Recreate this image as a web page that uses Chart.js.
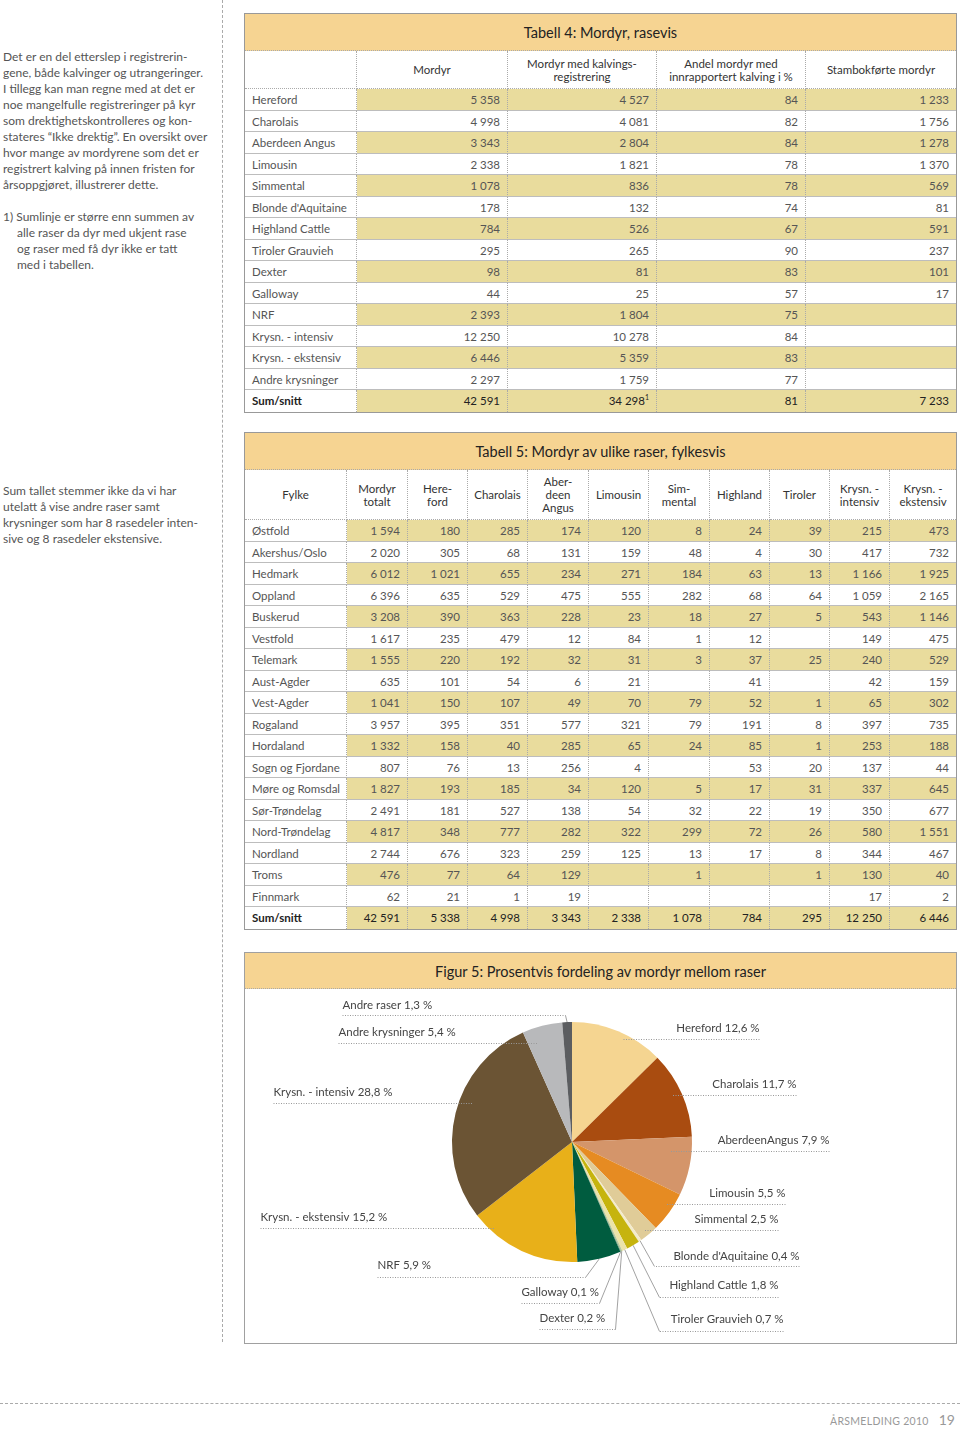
<!DOCTYPE html>
<html lang="no">
<head>
<meta charset="utf-8">
<script src="https://cdn.jsdelivr.net/npm/chart.js@4.4.1/dist/chart.umd.min.js"></script>
<style>
body { margin:0; width:960px; height:1429px; position:relative; background:#fff; font-family:Lato, "Open Sans", sans-serif; color:#555; overflow:hidden; }
.note { position:absolute; left:3px; font-size:12px; line-height:16px; white-space:nowrap; color:#555; }
.note .hang { padding-left:14px; text-indent:-14px; }
.vline { position:absolute; left:222px; top:0; height:1342px; border-left:1px dashed #aaa; }
.hline { position:absolute; left:0; top:1403px; width:960px; border-top:1px dashed #aaa; }
.box { position:absolute; left:244px; width:713px; box-sizing:border-box; border:1px solid #999; background:#fff; }
.band { background:#f6d492; text-align:center; color:#222; font-size:14.5px; border-bottom:1px dotted #aaa; box-sizing:border-box; }
.grid { display:grid; }
.c { box-sizing:border-box; border-right:1px dotted #aaa; border-bottom:1px solid #bdbdbd; font-size:11.5px; text-align:right; padding-right:7px; line-height:21px; white-space:nowrap; overflow:hidden; }
.c.name { text-align:left; padding-left:7px; }
.c.last { border-right:none; }
.c.hl { background:#e9dc9d; }
.c.bot { border-bottom:none; }
.c.sum { color:#222; }
.c.sum.name { font-weight:bold; }
.c.h { display:flex; align-items:center; justify-content:center; text-align:center; color:#333; line-height:13px; padding:0; font-size:11.5px; border-bottom:1px dotted #aaa; }
sup { font-size:7px; line-height:0; }
#fig canvas { display:block; }
.footer { position:absolute; top:1410px; right:5px; color:#999; white-space:nowrap; line-height:18px; }
.footer .t { font-size:10.5px; letter-spacing:0.3px; }
.footer .p { font-size:14px; margin-left:10px; }
</style>
</head>
<body>
<div class="vline"></div>
<div class="hline"></div>

<div class="note" style="top:49px">
Det er en del etterslep i registrerin-<br>
gene, både kalvinger og utrangeringer.<br>
I tillegg kan man regne med at det er<br>
noe mangelfulle registreringer på kyr<br>
som drektighetskontrolleres og kon-<br>
stateres “Ikke drektig”. En oversikt over<br>
hvor mange av mordyrene som det er<br>
registrert kalving på innen fristen for<br>
årsoppgjøret, illustrerer dette.
</div>
<div class="note" style="top:209px">
<div class="hang">1) Sumlinje er større enn summen av<br>
alle raser da dyr med ukjent rase<br>
og raser med få dyr ikke er tatt<br>
med i tabellen.</div>
</div>
<div class="note" style="top:483px">
Sum tallet stemmer ikke da vi har<br>
utelatt å vise andre raser samt<br>
krysninger som har 8 rasedeler inten-<br>
sive og 8 rasedeler ekstensive.
</div>

<div class="box" id="t4" style="top:13px">
  <div class="band" style="height:37px;line-height:38px">Tabell 4: Mordyr, rasevis</div>
  <div class="grid" id="g4"></div>
</div>

<div class="box" id="t5" style="top:432px">
  <div class="band" style="height:37px;line-height:38px">Tabell 5: Mordyr av ulike raser, fylkesvis</div>
  <div class="grid" id="g5"></div>
</div>

<div class="box" id="fig" style="top:952px;height:392px;border-width:1.5px;border-color:#a0a0a0">
  <div class="band" style="height:36px;line-height:37px">Figur 5: Prosentvis fordeling av mordyr mellom raser</div>
  <canvas id="pie" width="710" height="353"></canvas>
</div>

<div class="footer"><span class="t">ÅRSMELDING 2010</span><span class="p">19</span></div>

<script>
// Tabell 4
var t4Breeds = ["Hereford", "Charolais", "Aberdeen Angus", "Limousin", "Simmental", "Blonde d'Aquitaine", "Highland Cattle", "Tiroler Grauvieh", "Dexter", "Galloway", "NRF", "Krysn. - intensiv", "Krysn. - ekstensiv", "Andre krysninger", "Sum/snitt"];
var t4Mordyr = [5358, 4998, 3343, 2338, 1078, 178, 784, 295, 98, 44, 2393, 12250, 6446, 2297, 42591];
var t4Kalving = [4527, 4081, 2804, 1821, 836, 132, 526, 265, 81, 25, 1804, 10278, 5359, 1759, 34298];
var t4Andel = [84, 82, 84, 78, 78, 74, 67, 90, 83, 57, 75, 84, 83, 77, 81];
var t4Stambok = [1233, 1756, 1278, 1370, 569, 81, 591, 237, 101, 17, null, null, null, null, 7233];
var t4Headers = ["", "Mordyr", "Mordyr med kalvings-<br>registrering", "Andel mordyr med<br>innrapportert kalving i %", "Stambokførte mordyr"];

// Tabell 5
var t5Fylker = ["Østfold", "Akershus/Oslo", "Hedmark", "Oppland", "Buskerud", "Vestfold", "Telemark", "Aust-Agder", "Vest-Agder", "Rogaland", "Hordaland", "Sogn og Fjordane", "Møre og Romsdal", "Sør-Trøndelag", "Nord-Trøndelag", "Nordland", "Troms", "Finnmark", "Sum/snitt"];
var t5Totalt = [1594, 2020, 6012, 6396, 3208, 1617, 1555, 635, 1041, 3957, 1332, 807, 1827, 2491, 4817, 2744, 476, 62, 42591];
var t5Hereford = [180, 305, 1021, 635, 390, 235, 220, 101, 150, 395, 158, 76, 193, 181, 348, 676, 77, 21, 5338];
var t5Charolais = [285, 68, 655, 529, 363, 479, 192, 54, 107, 351, 40, 13, 185, 527, 777, 323, 64, 1, 4998];
var t5Aberdeen = [174, 131, 234, 475, 228, 12, 32, 6, 49, 577, 285, 256, 34, 138, 282, 259, 129, 19, 3343];
var t5Limousin = [120, 159, 271, 555, 23, 84, 31, 21, 70, 321, 65, 4, 120, 54, 322, 125, null, null, 2338];
var t5Simmental = [8, 48, 184, 282, 18, 1, 3, null, 79, 79, 24, null, 5, 32, 299, 13, 1, null, 1078];
var t5Highland = [24, 4, 63, 68, 27, 12, 37, 41, 52, 191, 85, 53, 17, 22, 72, 17, null, null, 784];
var t5Tiroler = [39, 30, 13, 64, 5, null, 25, null, 1, 8, 1, 20, 31, 19, 26, 8, 1, null, 295];
var t5Intensiv = [215, 417, 1166, 1059, 543, 149, 240, 42, 65, 397, 253, 137, 337, 350, 580, 344, 130, 17, 12250];
var t5Ekstensiv = [473, 732, 1925, 2165, 1146, 475, 529, 159, 302, 735, 188, 44, 645, 677, 1551, 467, 40, 2, 6446];
var t5Headers = ["Fylke", "Mordyr<br>totalt", "Here-<br>ford", "Charolais", "Aber-<br>deen<br>Angus", "Limousin", "Sim-<br>mental", "Highland", "Tiroler", "Krysn. -<br>intensiv", "Krysn. -<br>ekstensiv"];

// Figur 5
var pieLabels = ["Hereford", "Charolais", "AberdeenAngus", "Limousin", "Simmental", "Blonde d'Aquitaine", "Highland Cattle", "Tiroler Grauvieh", "Dexter", "Galloway", "NRF", "Krysn. - ekstensiv", "Krysn. - intensiv", "Andre krysninger", "Andre raser"];
var pieShares = [12.6, 11.7, 7.9, 5.5, 2.5, 0.4, 1.8, 0.7, 0.2, 0.1, 5.9, 15.2, 28.8, 5.4, 1.3];
var pieColors = ["#f5d591", "#a94c10", "#d4956a", "#e68b22", "#e0cc98", "#f3ebcc", "#c6b40e", "#ece3a8", "#b9c79a", "#6c9a78", "#005c3f", "#e8b019", "#6b5434", "#b8b9bb", "#5b5d60"];

function fmt(n) {
  if (n == null) return "";
  return String(n).replace(/\B(?=(\d{3})+(?!\d))/g, "\u00a0");
}

function buildGrid(el, widths, headerH, headers, names, cols, extra) {
  el.style.gridTemplateColumns = widths.map(function(w) { return w + "px"; }).join(" ");
  el.style.gridTemplateRows = headerH + "px repeat(" + names.length + ", 21.5px)";
  var html = "";
  headers.forEach(function(h, j) {
    html += '<div class="c h' + (j == headers.length - 1 ? " last" : "") + '">' + h + "</div>";
  });
  names.forEach(function(name, i) {
    var last = i == names.length - 1;
    var cls = (last ? " bot sum" : "");
    html += '<div class="c name' + cls + '">' + name + "</div>";
    cols.forEach(function(col, j) {
      var c = "c" + cls + (i % 2 == 0 ? " hl" : "") + (j == cols.length - 1 ? " last" : "");
      var txt = fmt(col[i]);
      if (extra) txt += extra(i, j);
      html += '<div class="' + c + '">' + txt + "</div>";
    });
  });
  el.innerHTML = html;
}

buildGrid(document.getElementById("g4"), [112, 151, 149, 149, 150], 38, t4Headers, t4Breeds,
  [t4Mordyr, t4Kalving, t4Andel, t4Stambok],
  function(i, j) { return (j == 1 && i == t4Breeds.length - 1) ? "<sup>1</sup>" : ""; });

buildGrid(document.getElementById("g5"), [102, 61, 60, 60, 61, 60, 61, 60, 60, 60, 66], 50, t5Headers, t5Fylker,
  [t5Totalt, t5Hereford, t5Charolais, t5Aberdeen, t5Limousin, t5Simmental, t5Highland, t5Tiroler, t5Intensiv, t5Ekstensiv]);

// label placement for the pie (page coordinates), same order as pieLabels
var labelLayout = [
  { side: "R", outer: 760, inner: 623, ty: 1028, uy: 1038, leader: false },
  { side: "R", outer: 797, inner: 673, ty: 1084, uy: 1094, leader: false },
  { side: "R", outer: 830, inner: 671, ty: 1140, uy: 1150, leader: false },
  { side: "R", outer: 786, inner: 667, ty: 1193, uy: 1203, leader: false },
  { side: "R", outer: 779, inner: 644, ty: 1219, uy: 1229, leader: false },
  { side: "R", outer: 800, inner: 655, ty: 1256, uy: 1265, leader: true },
  { side: "R", outer: 779, inner: 660, ty: 1285, uy: 1296, leader: true },
  { side: "R", outer: 784, inner: 660, ty: 1319, uy: 1330, leader: true },
  { side: "L", outer: 540, inner: 616, ty: 1318, uy: 1328, leader: true },
  { side: "L", outer: 522, inner: 600, ty: 1292, uy: 1302, leader: true },
  { side: "L", outer: 378, inner: 586, ty: 1265, uy: 1276, leader: true },
  { side: "L", outer: 261, inner: 495, ty: 1217, uy: 1227, leader: false },
  { side: "L", outer: 274, inner: 474, ty: 1092, uy: 1102, leader: false },
  { side: "L", outer: 339, inner: 538, ty: 1032, uy: 1042, leader: false },
  { side: "L", outer: 343, inner: 566, ty: 1005, uy: 1014, leader: true }
];
var canvasLeft = 245.5, canvasTop = 988.5;

var pieLabelPlugin = {
  id: "pieLabels",
  afterDraw: function(chart) {
    var ctx = chart.ctx;
    var arcs = chart.getDatasetMeta(0).data;
    ctx.save();
    ctx.font = "11.5px Lato";
    ctx.textBaseline = "middle";
    arcs.forEach(function(arc, i) {
      var L = labelLayout[i];
      var outer = L.outer - canvasLeft, inner = L.inner - canvasLeft;
      var ty = L.ty - canvasTop, uy = Math.round(L.uy - canvasTop) + 0.5;
      var text = pieLabels[i] + " " + String(pieShares[i]).replace(".", ",") + " %";
      ctx.fillStyle = "#444";
      ctx.textAlign = L.side == "R" ? "right" : "left";
      ctx.fillText(text, outer, ty);
      ctx.strokeStyle = "#999";
      ctx.lineWidth = 1;
      ctx.setLineDash([1, 1.5]);
      ctx.beginPath();
      ctx.moveTo(outer, uy);
      ctx.lineTo(inner, uy);
      ctx.stroke();
      if (L.leader) {
        var mid = (arc.startAngle + arc.endAngle) / 2;
        var px = arc.x + Math.cos(mid) * arc.outerRadius;
        var py = arc.y + Math.sin(mid) * arc.outerRadius;
        ctx.setLineDash([]);
        ctx.strokeStyle = "#8a8a8a";
        ctx.lineWidth = 0.8;
        ctx.beginPath();
        ctx.moveTo(inner, uy);
        ctx.lineTo(px, py);
        ctx.stroke();
      }
    });
    ctx.restore();
  }
};

var chart = new Chart(document.getElementById("pie"), {
  type: "pie",
  data: {
    labels: pieLabels,
    datasets: [{
      data: pieShares,
      backgroundColor: pieColors,
      borderWidth: 0
    }]
  },
  options: {
    responsive: false,
    devicePixelRatio: 1,
    animation: false,
    layout: { padding: { left: 207, right: 263, top: 33, bottom: 80 } },
    plugins: {
      legend: { display: false },
      tooltip: { enabled: false }
    }
  },
  plugins: [pieLabelPlugin]
});
</script>
</body>
</html>
